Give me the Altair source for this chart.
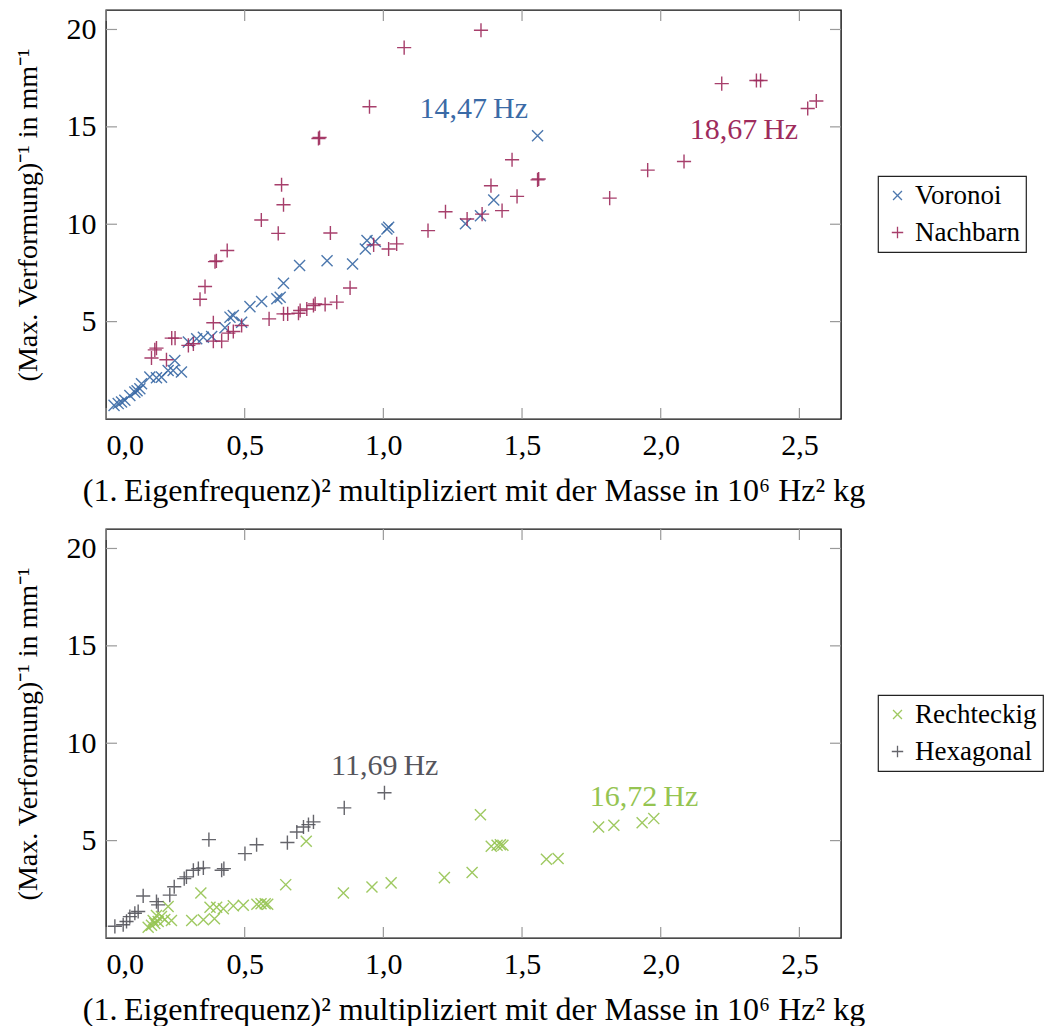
import altair as alt
import pandas as pd

# ---------------- data ----------------
vor_x = [0.029, 0.044, 0.056, 0.068, 0.086, 0.104, 0.112, 0.122, 0.128, 0.158, 0.182, 0.200,
         0.224, 0.242, 0.248, 0.272, 0.297, 0.327, 0.351, 0.381, 0.429, 0.447, 0.459, 0.489,
         0.519, 0.561, 0.616, 0.628, 0.640, 0.698, 0.797, 0.889, 0.935, 0.941, 0.971, 1.013,
         1.019, 1.296, 1.350, 1.398, 1.556]
vor_y = [0.70, 0.79, 0.87, 0.96, 1.21, 1.38, 1.45, 1.55, 1.81, 2.15, 2.12, 2.15,
         2.49, 2.49, 3.00, 2.41, 3.95, 4.12, 4.20, 4.24, 4.68, 5.23, 5.31, 4.97,
         5.77, 6.03, 6.17, 6.25, 6.97, 7.88, 8.13, 7.96, 8.73, 9.16, 9.12, 9.76,
         9.84, 10.03, 10.44, 11.24, 14.54]

nach_x = [1.075, 0.950, 0.766, 0.770, 0.633, 0.640, 0.560, 0.621, 0.809, 0.437, 0.393, 0.398,
          0.357, 0.339, 0.387, 0.176, 0.182, 0.164, 0.218, 0.237, 0.249, 0.297, 0.315, 0.387,
          0.417, 0.441, 0.459, 0.489, 0.588, 0.640, 0.655, 0.694, 0.700, 0.724, 0.748, 0.754,
          0.790, 0.832, 0.880, 0.965, 1.019, 1.048, 1.161, 1.224, 1.302, 1.352, 1.464, 1.556,
          1.560, 1.388, 1.482, 1.428, 1.356, 1.816, 1.953, 2.084, 2.220, 2.345, 2.360, 2.530,
          2.561]
nach_y = [19.07, 16.03, 14.40, 14.45, 12.03, 11.00, 10.22, 9.53, 9.55, 8.65, 8.08, 8.12,
          6.80, 6.15, 4.94, 3.55, 3.64, 3.13, 3.04, 4.15, 4.15, 3.78, 3.86, 4.00,
          4.00, 4.41, 4.49, 4.80, 5.14, 5.40, 5.40, 5.43, 5.57, 5.65, 5.83, 5.91,
          5.88, 6.00, 6.73, 8.94, 8.73, 8.99, 9.67, 10.64, 10.27, 19.96, 13.31, 12.28,
          12.32, 11.98, 11.43, 10.70, 10.52, 11.34, 12.78, 13.22, 17.22, 17.38, 17.38, 15.94,
          16.33]

rect_x = [0.722, 0.648, 0.342, 0.856, 0.959, 1.028, 1.220, 1.320, 0.459, 0.495, 0.544, 0.559,
          0.574, 0.583, 0.375, 0.399, 0.423, 0.224, 0.309, 0.351, 0.391, 0.152, 0.164, 0.176,
          0.188, 0.200, 0.212, 0.236, 0.182, 0.170, 1.350, 1.389, 1.410, 1.422, 1.431, 1.588,
          1.630, 1.776, 1.831, 1.933, 1.975]
rect_y = [4.97, 2.74, 2.31, 2.31, 2.62, 2.83, 3.10, 3.36, 1.65, 1.68, 1.73, 1.76,
          1.76, 1.73, 1.58, 1.58, 1.50, 1.62, 0.90, 0.94, 0.99, 0.55, 0.65, 0.75,
          0.85, 1.10, 0.95, 0.90, 1.15, 0.90, 6.33, 4.71, 4.76, 4.79, 4.76, 4.04,
          4.08, 5.70, 5.79, 5.92, 6.13]

hex_x = [1.004, 0.859, 0.748, 0.730, 0.712, 0.688, 0.654, 0.543, 0.501, 0.371, 0.417, 0.425,
         0.351, 0.333, 0.315, 0.282, 0.290, 0.246, 0.230, 0.134, 0.182, 0.188, 0.116, 0.104,
         0.086, 0.074, 0.062, 0.032]
hex_y = [7.46, 6.68, 5.96, 5.82, 5.70, 5.44, 4.90, 4.79, 4.33, 5.05, 3.48, 3.56,
         3.60, 3.56, 3.48, 3.05, 3.14, 2.63, 2.20, 2.16, 1.87, 1.70, 1.36, 1.27,
         1.10, 0.85, 0.68, 0.60]

top_names = ["Voronoi", "Nachbarn"]
bot_names = ["Rechteckig", "Hexagonal"]

top_notes = ["14,47\u2009Hz", "18,67\u2009Hz"]
top_note_x = [1.326, 2.300]
top_note_y = [15.45, 14.36]
bot_notes = ["11,69\u2009Hz", "16,72\u2009Hz"]
bot_note_x = [1.005, 1.940]
bot_note_y = [8.37, 6.80]

xtick_vals = [0.0, 0.5, 1.0, 1.5, 2.0, 2.5]
ytick_vals = [5, 10, 15, 20]

X_TITLE = "(1.\u2009Eigenfrequenz)\u00b2 multipliziert mit der Masse in 10\u2076 Hz\u00b2 kg"
Y_TITLE = "(Max. Verformung)\u207b\u00b9 in mm\u207b\u00b9"

# ---------------- styling ----------------
FONT = "Liberation Serif"
FS_LAB = 30
FS_XT = 32
FS_YT = 28
FS_LEG = 27
W, H = 735, 409
XDOM = [0, 2.65]
YDOM = [0, 21]
TICKLEN = 11
TICKCOL = "#9a9a9a"

PLUS = "M-1,0H1M0,-1V1"
CROSS = "M-0.78,-0.78L0.78,0.78M-0.78,0.78L0.78,-0.78"

BLUE = "#3a6aa6"
PURPLE = "#9e2b5c"
GREEN = "#95c451"
GRAY = "#55555c"


def panel(names, colors, xs_list, ys_list, notes, nx, ny, note_colors):
    rows = []
    for name, xs, ys in zip(names, xs_list, ys_list):
        rows += [{"x": a, "y": b, "series": name} for a, b in zip(xs, ys)]
    df = pd.DataFrame(rows)

    X = alt.X("x:Q", scale=alt.Scale(domain=XDOM, nice=False, zero=False),
              axis=alt.Axis(values=xtick_vals, title=X_TITLE, titleFontSize=FS_XT,
                            labelExpr="replace(format(datum.value, '.1f'), '.', ',')"))
    Y = alt.Y("y:Q", scale=alt.Scale(domain=YDOM, nice=False, zero=False),
              axis=alt.Axis(values=ytick_vals, title=Y_TITLE, titleFontSize=FS_YT))

    leg = alt.Legend(title=None, orient="none", legendX=772, legendY=166)
    pts = alt.Chart(df).mark_point(filled=False, strokeWidth=1.4, opacity=0.9, size=200).encode(
        x=X, y=Y,
        color=alt.Color("series:N", scale=alt.Scale(domain=names, range=colors), legend=leg),
        shape=alt.Shape("series:N", scale=alt.Scale(domain=names, range=[CROSS, PLUS]), legend=leg),
    )

    xt = pd.DataFrame({"x": xtick_vals})
    yt = pd.DataFrame({"y": ytick_vals})
    t_top = alt.Chart(xt).mark_rule(color=TICKCOL, strokeWidth=1.2).encode(
        x=X, y=alt.value(0), y2=alt.value(TICKLEN))
    t_bot = alt.Chart(xt).mark_rule(color=TICKCOL, strokeWidth=1.2).encode(
        x=X, y=alt.value(H), y2=alt.value(H - TICKLEN))
    t_left = alt.Chart(yt).mark_rule(color=TICKCOL, strokeWidth=1.2).encode(
        y=Y, x=alt.value(0), x2=alt.value(TICKLEN))
    t_right = alt.Chart(yt).mark_rule(color=TICKCOL, strokeWidth=1.2).encode(
        y=Y, x=alt.value(W), x2=alt.value(W - TICKLEN))

    layers = [t_top, t_bot, t_left, t_right, pts]
    for lab, a, b, c in zip(notes, nx, ny, note_colors):
        ndf = pd.DataFrame({"x": [a], "y": [b], "label": [lab]})
        layers.append(alt.Chart(ndf).mark_text(font=FONT, fontSize=FS_LAB, color=c, align="center",
                                               baseline="alphabetic").encode(x=X, y=Y, text="label:N"))
    return alt.layer(*layers).properties(width=W, height=H)


top = panel(top_names, [BLUE, PURPLE], [vor_x, nach_x], [vor_y, nach_y],
            top_notes, top_note_x, top_note_y, [BLUE, PURPLE])
bot = panel(bot_names, [GREEN, GRAY], [rect_x, hex_x], [rect_y, hex_y],
            bot_notes, bot_note_x, bot_note_y, [GRAY, GREEN])

chart = alt.vconcat(top, bot, spacing=20).resolve_scale(
    color="independent", shape="independent"
).properties(
    padding={"left": 5, "top": 0, "right": 0, "bottom": 0}
).configure_view(
    stroke="#111111", strokeWidth=1.4
).configure_axis(
    labelFont=FONT, labelFontSize=FS_LAB, labelColor="black",
    titleFont=FONT, titleFontWeight="normal", titleColor="black",
    domain=False, ticks=False, grid=False,
).configure_axisX(
    labelPadding=11, titlePadding=15,
).configure_axisY(
    labelPadding=10, titlePadding=24,
).configure_legend(
    labelFont=FONT, labelFontSize=FS_LEG, labelColor="black",
    strokeColor="#222222", strokeWidth=1.2, fillColor="white",
    padding=6, rowPadding=9, symbolSize=130, symbolStrokeWidth=1.3, labelOffset=4,
)

chart.save("out.html", embed_options={"renderer": "svg", "actions": False})
